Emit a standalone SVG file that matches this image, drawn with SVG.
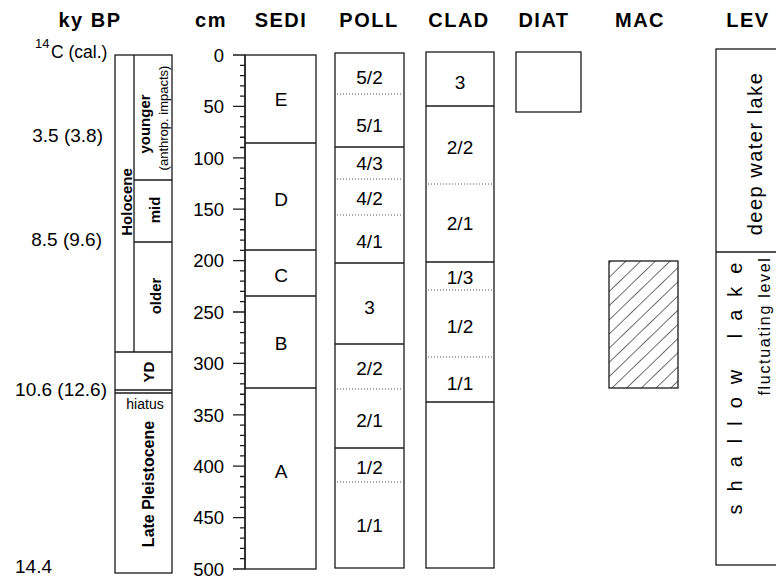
<svg xmlns="http://www.w3.org/2000/svg" width="776" height="581" viewBox="0 0 776 581">
<style>
text{font-family:"Liberation Sans",Arial,Helvetica,sans-serif;fill:#000}
.box{fill:none;stroke:#1a1a1a;stroke-width:1.3}
.ln{fill:none;stroke:#1a1a1a;stroke-width:1.3}
.dot{fill:none;stroke:#555;stroke-width:1;stroke-dasharray:1 2}
.hdr{font-size:20px;font-weight:bold;letter-spacing:1.5px;text-anchor:middle}
.lbl{font-size:19px;text-anchor:middle}
.tl{font-size:18.5px;text-anchor:end}
.age{font-size:19px;text-anchor:end}
.bv{font-size:15px;font-weight:bold;text-anchor:middle}
</style>
<defs>
<pattern id="hatch" patternUnits="userSpaceOnUse" width="10.2" height="10" patternTransform="rotate(46)">
<line x1="0" y1="-1" x2="0" y2="11" stroke="#111" stroke-width="1.2"/>
</pattern>
</defs>

<g id="headers">
<text class="hdr" x="90" y="27">ky BP</text>
<text class="hdr" x="211" y="27">cm</text>
<text class="hdr" x="281" y="27">SEDI</text>
<text class="hdr" x="369" y="27">POLL</text>
<text class="hdr" x="459" y="27">CLAD</text>
<text class="hdr" x="544" y="27">DIAT</text>
<text class="hdr" x="640" y="27">MAC</text>
<text class="hdr" x="748" y="27">LEV</text>
</g>

<g id="age-labels">
<text x="35" y="48" style="font-size:13px">14</text>
<text x="51" y="58" style="font-size:17.5px">C (cal.)</text>
<text class="age" x="103" y="142">3.5 (3.8)</text>
<text class="age" x="102" y="246">8.5 (9.6)</text>
<text class="age" x="107" y="396">10.6 (12.6)</text>
<text x="15" y="573" style="font-size:19px">14.4</text>
</g>

<g id="chronology">
<rect class="box" x="115" y="55" width="57" height="518"/>
<path class="ln" d="M134 55V352M134 180H172M134 242H172M115 352H172M115 390H172M115 393H172"/>
<text class="bv" transform="translate(132,202) rotate(-90)">Holocene</text>
<text class="bv" transform="translate(150,124) rotate(-90)">younger</text>
<text transform="translate(168,118) rotate(-90)" style="font-size:13px;text-anchor:middle">(anthrop. impacts)</text>
<text class="bv" transform="translate(160,210) rotate(-90)">mid</text>
<text class="bv" transform="translate(161,296) rotate(-90)">older</text>
<text class="bv" transform="translate(154,372) rotate(-90)">YD</text>
<text x="145" y="408.5" style="font-size:14px;text-anchor:middle">hiatus</text>
<text class="bv" transform="translate(154,484) rotate(-90)" style="font-size:16px">Late Pleistocene</text>
</g>

<g id="depth-axis">
<path class="ln" d="M245 55V569"/>
<path class="ln" d="M233 55h12M233 106.4h12M233 157.8h12M233 209.2h12M233 260.6h12M233 312h12M233 363.4h12M233 414.8h12M233 466.2h12M233 517.6h12M233 569h12"/>
<path class="ln" stroke-width="1" d="M240 65.28h5M240 75.56h5M240 85.84h5M240 96.12h5M240 116.68h5M240 126.96h5M240 137.24h5M240 147.52h5M240 168.08h5M240 178.36h5M240 188.64h5M240 198.92h5M240 219.48h5M240 229.76h5M240 240.04h5M240 250.32h5M240 270.88h5M240 281.16h5M240 291.44h5M240 301.72h5M240 322.28h5M240 332.56h5M240 342.84h5M240 353.12h5M240 373.68h5M240 383.96h5M240 394.24h5M240 404.52h5M240 425.08h5M240 435.36h5M240 445.64h5M240 455.92h5M240 476.48h5M240 486.76h5M240 497.04h5M240 507.32h5M240 527.88h5M240 538.16h5M240 548.44h5M240 558.72h5"/>
<text class="tl" x="224" y="62">0</text>
<text class="tl" x="224" y="113.2">50</text>
<text class="tl" x="224" y="164.6">100</text>
<text class="tl" x="224" y="216">150</text>
<text class="tl" x="224" y="267.4">200</text>
<text class="tl" x="224" y="318.8">250</text>
<text class="tl" x="224" y="370.2">300</text>
<text class="tl" x="224" y="421.6">350</text>
<text class="tl" x="224" y="473">400</text>
<text class="tl" x="224" y="524.4">450</text>
<text class="tl" x="224" y="576">500</text>
</g>

<g id="sedi">
<rect class="box" x="245" y="55" width="71" height="514"/>
<path class="ln" d="M245 143H316M245 250H316M245 296H316M245 388H316"/>
<text class="lbl" x="281" y="106">E</text>
<text class="lbl" x="281" y="205.5">D</text>
<text class="lbl" x="281" y="281.5">C</text>
<text class="lbl" x="281" y="349.5">B</text>
<text class="lbl" x="281" y="477.5">A</text>
</g>

<g id="poll">
<rect class="box" x="335" y="53" width="69" height="515"/>
<path class="ln" d="M335 147H404M335 263H404M335 344H404M335 448H404"/>
<path class="dot" d="M337 94H403M337 179H403M337 215H403M337 389H403M337 482H403"/>
<text class="lbl" x="369.5" y="83.5">5/2</text>
<text class="lbl" x="369.5" y="131.5">5/1</text>
<text class="lbl" x="369.5" y="169.5">4/3</text>
<text class="lbl" x="369.5" y="204.5">4/2</text>
<text class="lbl" x="369.5" y="247.5">4/1</text>
<text class="lbl" x="369.5" y="313.5">3</text>
<text class="lbl" x="369.5" y="374.5">2/2</text>
<text class="lbl" x="369.5" y="426.5">2/1</text>
<text class="lbl" x="369.5" y="473.5">1/2</text>
<text class="lbl" x="369.5" y="531.5">1/1</text>
</g>

<g id="clad">
<rect class="box" x="426" y="52" width="68" height="516"/>
<path class="ln" d="M426 106H494M426 262H494M426 402H494"/>
<path class="dot" d="M428 184H493M428 290H493M428 357H493"/>
<text class="lbl" x="460" y="88.5">3</text>
<text class="lbl" x="460" y="153.5">2/2</text>
<text class="lbl" x="460" y="229.5">2/1</text>
<text class="lbl" x="460" y="283.5">1/3</text>
<text class="lbl" x="460" y="332.5">1/2</text>
<text class="lbl" x="460" y="389.5">1/1</text>
</g>

<g id="diat">
<rect class="box" x="516" y="52" width="65" height="60"/>
</g>

<g id="mac">
<rect x="609" y="261" width="69" height="127" fill="url(#hatch)" stroke="#1a1a1a" stroke-width="1.3"/>
</g>

<g id="lev">
<rect class="box" x="716" y="49" width="80" height="516"/>
<path class="ln" d="M716 252H776"/>
<text transform="translate(761.5,153.5) rotate(-90)" style="font-size:20px;letter-spacing:1.5px;text-anchor:middle">deep water lake</text>
<text transform="translate(742,382) rotate(-90)" style="font-size:20px;letter-spacing:13px;text-anchor:middle">shallow lake</text>
<text transform="translate(770,326) rotate(-90)" style="font-size:16px;letter-spacing:1.7px;text-anchor:middle">fluctuating level</text>
</g>

<g id="connectors"></g>
</svg>
